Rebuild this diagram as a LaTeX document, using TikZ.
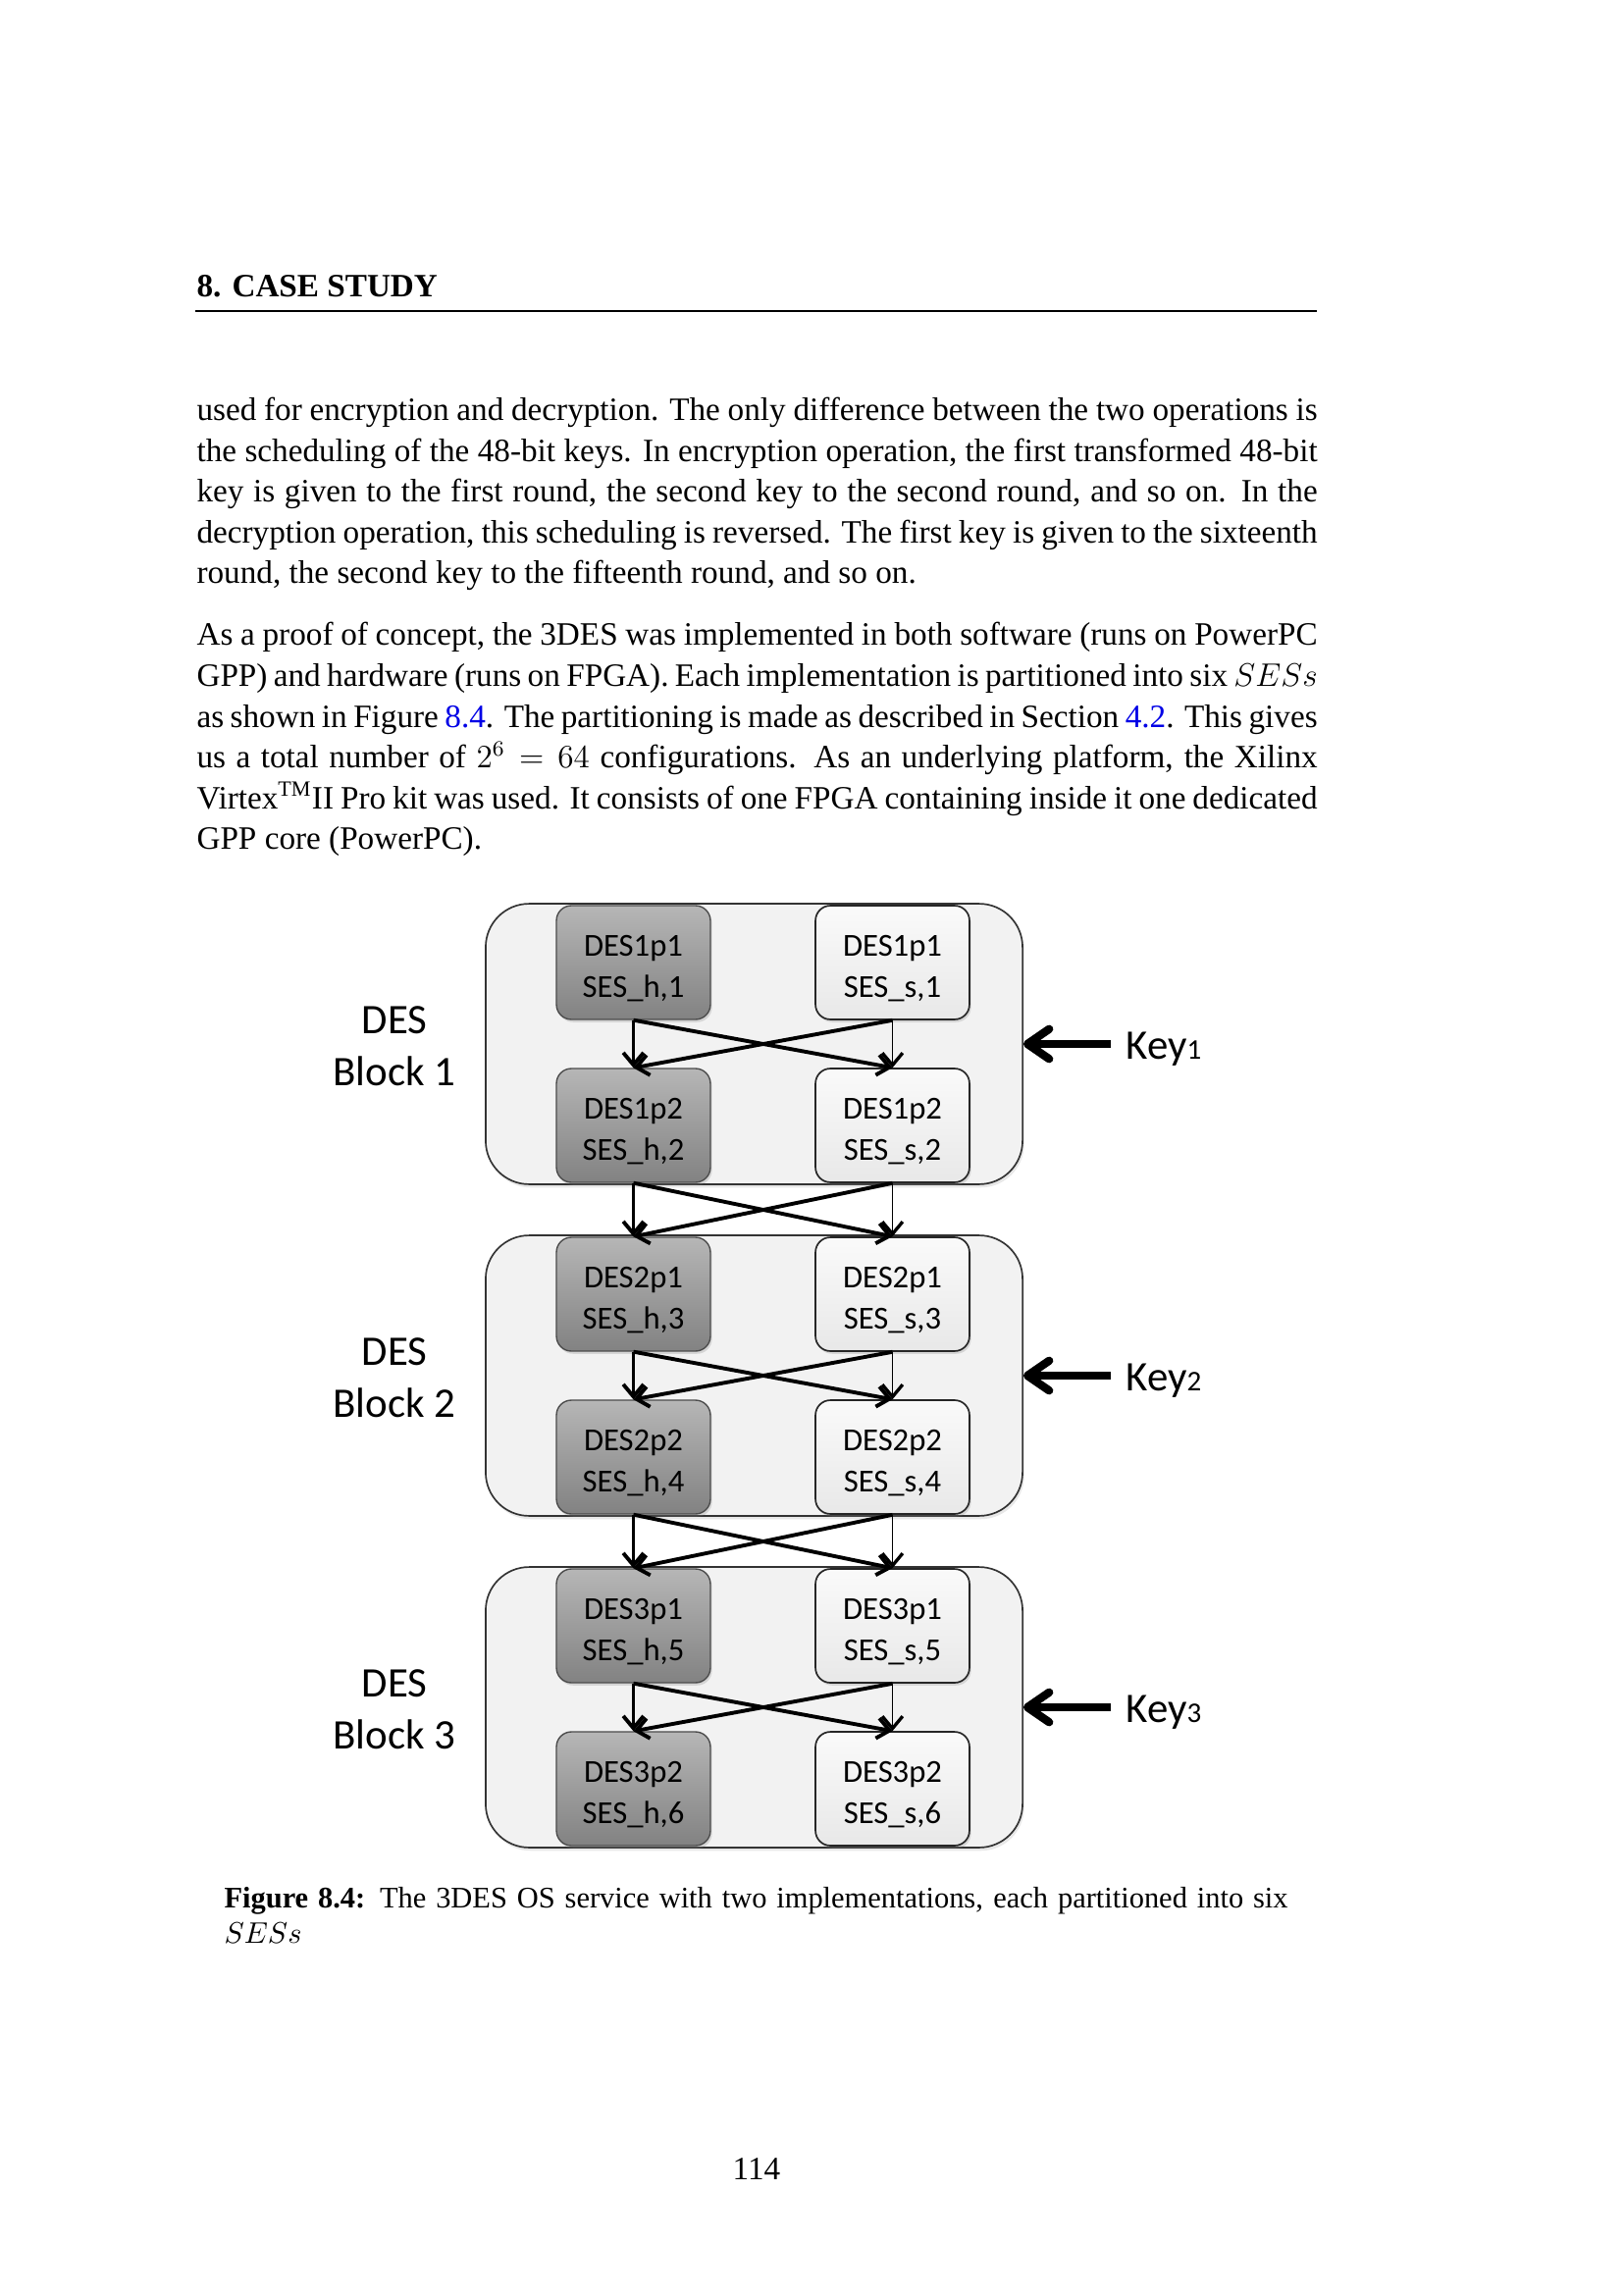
\documentclass[tikz,border=0pt]{standalone}
\usepackage{fontspec}
\setmainfont{Liberation Serif}
\newfontfamily\diafont{Carlito}
\usetikzlibrary{arrows.meta,shadows,calc}
\definecolor{linkblue}{RGB}{0,0,230}
\definecolor{htop}{RGB}{182,182,182}
\definecolor{hbot}{RGB}{130,130,130}
\newcommand\justline[1]{\makebox[412.7pt][s]{#1}}
\newcommand\capline[1]{\makebox[391.7pt][s]{#1}}
\newcommand\topstrut{\rule{0pt}{12pt}}
\tikzset{
  body/.style={anchor=base west, inner sep=0pt, font=\fontsize{12pt}{14.5pt}\selectfont},
  captext/.style={anchor=base west, inner sep=0pt, font=\fontsize{11pt}{13.6pt}\selectfont},
  blockbox/.style={draw=black!80, line width=0.6pt, fill=black!5, rounded corners=16pt,
    minimum width=197.7pt, minimum height=103.3pt, inner sep=0pt,
    drop shadow={opacity=0.18, shadow xshift=0.6pt, shadow yshift=-1.2pt}},
  hwbox/.style={draw=black!70, line width=0.5pt, top color=htop, bottom color=hbot,
    rounded corners=5.5pt, minimum width=56.7pt, minimum height=41.9pt, inner sep=0pt,
    align=center, font=\diafont\fontsize{11.8pt}{15pt}\selectfont,
    drop shadow={opacity=0.25, shadow xshift=0.6pt, shadow yshift=-1pt}},
  swbox/.style={draw=black!85, line width=0.6pt, top color=black!2, bottom color=black!9,
    rounded corners=5.5pt, minimum width=56.7pt, minimum height=41.9pt, inner sep=0pt,
    align=center, font=\diafont\fontsize{11.8pt}{15pt}\selectfont,
    drop shadow={opacity=0.25, shadow xshift=0.6pt, shadow yshift=-1pt}},
  flow/.style={-{Straight Barb[length=4.5pt,width=7.5pt]}, line width=1.4pt},
  flowthin/.style={-{Straight Barb[length=4.5pt,width=7.5pt,line width=1.2pt]}, line width=0.5pt},
  keyarrow/.style={-{Straight Barb[length=8pt,width=11pt,round]}, line width=3pt},
  blocklabel/.style={align=center, inner sep=0pt, font=\diafont\fontsize{15.5pt}{19pt}\selectfont},
  keylabel/.style={anchor=base west, inner sep=0pt, font=\diafont\fontsize{15.5pt}{19pt}\selectfont},
}
\begin{document}
\begin{tikzpicture}[x=0.36135pt,y=-0.36135pt]
\useasboundingbox (0,0) rectangle (1654,2339);
\fill[white] (0,0) rectangle (1654,2339);

% header
\node[body] (head) at (200,303) {\bfseries 8. CASE STUDY};
\draw[line width=1pt] (199,317) -- (1342,317);

% paragraph 1
\node[body] (p1a) at (200,429) {\justline{used for encryption and decryption. The only difference between the two operations is}};
\node[body] (p1b) at (200,470.5) {\justline{the scheduling of the 48-bit keys. In encryption operation, the first transformed 48-bit}};
\node[body] (p1c) at (200,512) {\justline{key is given to the first round, the second key to the second round, and so on. In the}};
\node[body] (p1d) at (200,553.5) {\justline{decryption operation, this scheduling is reversed. The first key is given to the sixteenth}};
\node[body] (p1e) at (200,595) {round, the second key to the fifteenth round, and so on.};

% paragraph 2
\node[body] (p2a) at (200,658) {\justline{As a proof of concept, the 3DES was implemented in both software (runs on PowerPC}};
\node[body] (p2b) at (200,699.5) {\justline{GPP) and hardware (runs on FPGA). Each implementation is partitioned into six $SESs$}};
\node[body] (p2c) at (200,741) {\justline{as shown in Figure \textcolor{linkblue}{8.4}. The partitioning is made as described in Section \textcolor{linkblue}{4.2}. This gives}};
\node[body] (p2d) at (200,782.5) {\justline{us a total number of $2^{6} = 64$ configurations. As an underlying platform, the Xilinx}};
\node[body] (p2e) at (200,824) {\justline{Virtex\textsuperscript{TM}II Pro kit was used. It consists of one FPGA containing inside it one dedicated}};
\node[body] (p2f) at (200,865.5) {GPP core (PowerPC).};

% diagram
\foreach \bk/\T in {1/921,2/1259,3/1597}{
  \pgfmathtruncatemacro\ia{2*\bk-1}
  \pgfmathtruncatemacro\ib{2*\bk}
  \node[blockbox] (blk\bk) at (768.5,\T+143) {};
  \node[hwbox] (h\ia) at (645.5,\T+60) {\topstrut DES\bk p1\\SES\_h,\ia};
  \node[swbox] (s\ia) at (909.5,\T+60) {\topstrut DES\bk p1\\SES\_s,\ia};
  \node[hwbox] (h\ib) at (645.5,\T+226) {\topstrut DES\bk p2\\SES\_h,\ib};
  \node[swbox] (s\ib) at (909.5,\T+226) {\topstrut DES\bk p2\\SES\_s,\ib};
  \node[blocklabel] (lab\bk) at (402,\T+145) {DES\\Block \bk};
  \coordinate (k\bk) at (1132,\T+143);
  \draw[keyarrow] (k\bk) -- (blk\bk.east);
  \node[keylabel] (key\bk) at (1147,\T+158) {Key{\fontsize{10.5pt}{12pt}\selectfont\bk}};
}
\foreach \i in {1,...,5}{
  \pgfmathtruncatemacro\j{\i+1}
  \draw[flowthin] (s\i.south) -- (s\j.north);
  \draw[flow] (h\i.south) -- (h\j.north);
  \draw[flow] (h\i.south) -- (s\j.north);
  \draw[flow] (s\i.south) -- (h\j.north);
}

% caption
\node[captext] (cap1) at (228,1944) {\capline{\bfseries Figure 8.4:\mdseries{} The 3DES OS service with two implementations, each partitioned into six}};
\node[captext] (cap2) at (228,1980) {$SESs$};

% page number
\node[body, anchor=base] (pg) at (771,2221) {114};
\end{tikzpicture}
\end{document}
